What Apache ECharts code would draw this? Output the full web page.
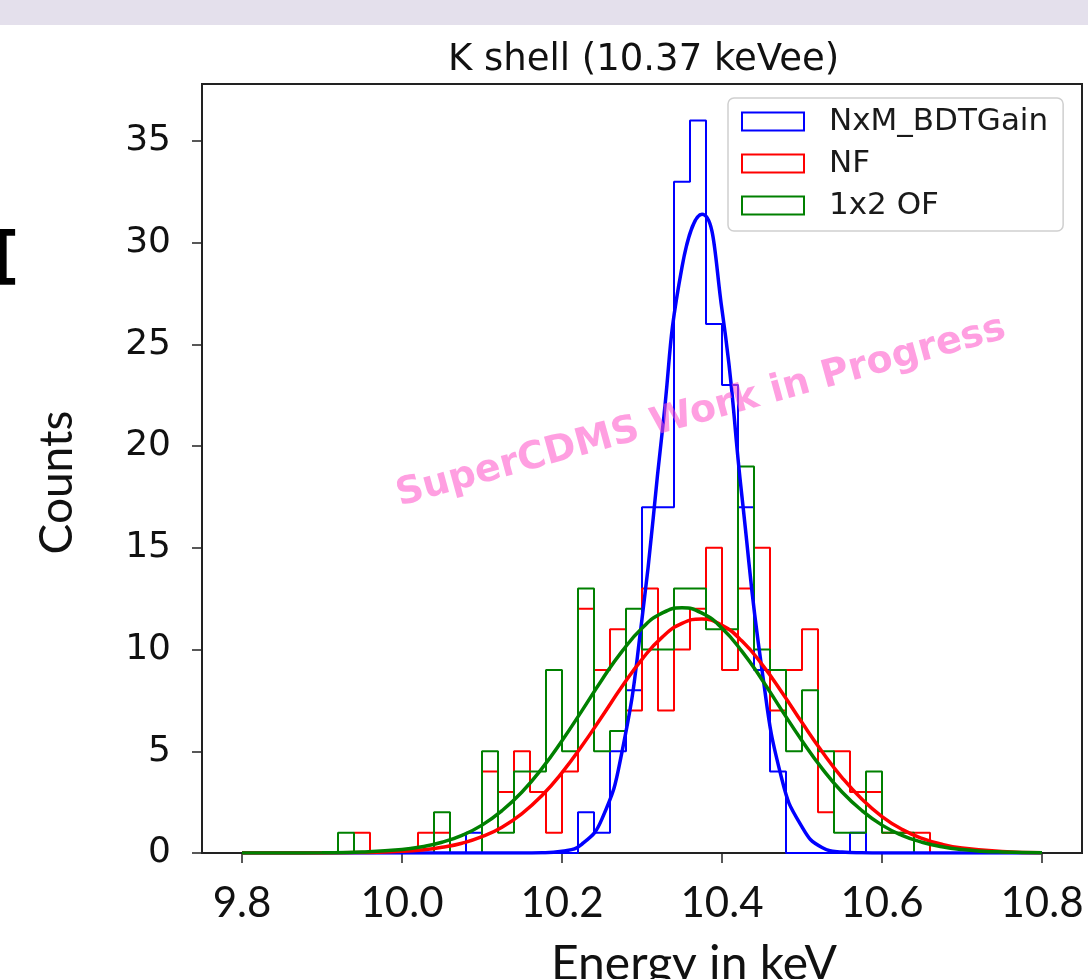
<!DOCTYPE html>
<html>
<head>
<meta charset="utf-8">
<title>K shell (10.37 keVee)</title>
<script src="https://cdn.jsdelivr.net/npm/echarts@6/dist/echarts.min.js"></script>
<style>
  html, body { margin: 0; padding: 0; background: #fff; }
  #chart1 { width: 1088px; height: 979px; }
</style>
</head>
<body>
<div id="chart1"></div>
<script>
// histogram: 50 bins of 0.02 keV between 9.8 and 10.8
var binStart = 9.8;
var binWidth = 0.02;
var seriesNames = ['NxM_BDTGain', 'NF', '1x2 OF'];
var seriesColors = ['#0000ff', '#ff0000', '#008000'];

var blueCounts = [0, 0, 0, 0, 0, 0, 0, 0, 0, 0,
                  0, 0, 0, 0, 1, 0, 0, 0, 0, 0,
                  0, 2, 1, 5, 8, 17, 17, 33, 36, 26,
                  23, 17, 9, 4, 0, 0, 0, 0, 1, 0,
                  0, 0, 0, 0, 0, 0, 0, 0, 0, 0];
var redCounts = [0, 0, 0, 0, 0, 0, 0, 1, 0, 0,
                 0, 1, 1, 0, 0, 4, 3, 5, 3, 1,
                 4, 12, 9, 11, 7, 13, 7, 10, 12, 15,
                 9, 13, 15, 7, 9, 11, 2, 5, 3, 3,
                 1, 1, 1, 0, 0, 0, 0, 0, 0, 0];
var greenCounts = [0, 0, 0, 0, 0, 0, 1, 0, 0, 0,
                   0, 0, 2, 0, 0, 5, 1, 4, 4, 9,
                   5, 13, 5, 6, 12, 10, 10, 13, 13, 11,
                   11, 19, 10, 9, 5, 8, 5, 1, 1, 4,
                   1, 1, 0, 0, 0, 0, 0, 0, 0, 0];

// gaussian fits as [energy, counts]
var blueFit = [[9.80, 0], [9.90, 0], [10.00, 0], [10.10, 0], [10.125, 0], [10.15, 0], [10.175, 0.01],
               [10.20, 0.09], [10.225, 0.44], [10.25, 1.68], [10.275, 4.97], [10.30, 11.5],
               [10.325, 20.6], [10.35, 28.8], [10.375, 31.4], [10.40, 26.7], [10.425, 17.5],
               [10.45, 9.0], [10.475, 3.6], [10.50, 1.28], [10.525, 0.27], [10.55, 0.05],
               [10.575, 0.01], [10.60, 0], [10.625, 0], [10.70, 0], [10.80, 0]];
var redFit = [[9.80, 0], [9.85, 0], [9.90, 0], [9.95, 0.02], [10.00, 0.08], [10.025, 0.15],
              [10.05, 0.28], [10.075, 0.48], [10.10, 0.8], [10.125, 1.27], [10.15, 1.94],
              [10.175, 2.83], [10.20, 3.95], [10.225, 5.27], [10.25, 6.71], [10.275, 8.18],
              [10.30, 9.52], [10.325, 10.6], [10.35, 11.29], [10.375, 11.5], [10.40, 11.19],
              [10.425, 10.42], [10.45, 9.27], [10.475, 7.89], [10.50, 6.41], [10.525, 4.99],
              [10.55, 3.71], [10.575, 2.64], [10.60, 1.79], [10.625, 1.16], [10.65, 0.72],
              [10.675, 0.43], [10.70, 0.25], [10.75, 0.07], [10.80, 0.01]];
var greenFit = [[9.80, 0], [9.85, 0], [9.90, 0.01], [9.95, 0.05], [10.00, 0.17], [10.025, 0.31],
                [10.05, 0.53], [10.075, 0.87], [10.10, 1.37], [10.125, 2.08], [10.15, 3.0],
                [10.175, 4.16], [10.20, 5.52], [10.225, 7.0], [10.25, 8.52], [10.275, 9.91],
                [10.30, 11.05], [10.325, 11.79], [10.35, 12.05], [10.375, 11.79], [10.40, 11.05],
                [10.425, 9.91], [10.45, 8.52], [10.475, 7.0], [10.50, 5.52], [10.525, 4.16],
                [10.55, 3.0], [10.575, 2.08], [10.60, 1.37], [10.625, 0.87], [10.65, 0.53],
                [10.675, 0.31], [10.70, 0.17], [10.725, 0.09], [10.75, 0.05], [10.80, 0.01]];

var xTicks = [9.8, 10.0, 10.2, 10.4, 10.6, 10.8];
var yTicks = [0, 5, 10, 15, 20, 25, 30, 35];

// outline of a step histogram: points at the bin edges
function stepData(counts) {
  var pts = [[binStart, 0]];
  for (var i = 0; i < counts.length; i++) {
    pts.push([+(binStart + i * binWidth).toFixed(3), counts[i]]);
  }
  pts.push([+(binStart + counts.length * binWidth).toFixed(3), 0]);
  return pts;
}

var histSeries = [blueCounts, redCounts, greenCounts].map(function (counts, i) {
  return {
    name: seriesNames[i],
    type: 'line',
    step: 'end',
    data: stepData(counts),
    showSymbol: false,
    color: seriesColors[i],
    lineStyle: { color: seriesColors[i], width: 2 },
    z: 2
  };
});
var fitSeries = [blueFit, redFit, greenFit].map(function (fit, i) {
  return {
    name: seriesNames[i] + ' fit',
    type: 'line',
    data: fit,
    smooth: true,
    showSymbol: false,
    color: seriesColors[i],
    lineStyle: { color: seriesColors[i], width: 3.5 },
    z: 3
  };
});

var myChart = echarts.init(document.getElementById('chart1'));
var option = {
  animation: false,
  backgroundColor: '#fff',
  title: {
    text: 'K shell (10.37 keVee)',
    left: 443,
    top: 37,
    textStyle: { fontFamily: 'DejaVu Sans', fontSize: 37, fontWeight: 'normal', color: '#111' }
  },
  legend: {
    data: seriesNames,
    icon: 'emptyRect',
    orient: 'vertical',
    left: 728,
    top: 98,
    itemWidth: 62,
    itemHeight: 18,
    itemGap: 11,
    backgroundColor: '#fff',
    borderColor: '#cfcfcf',
    borderWidth: 1.5,
    borderRadius: 6,
    padding: [8, 15, 10, 13],
    textStyle: { fontFamily: 'DejaVu Sans', fontSize: 31, color: '#1a1a1a', padding: [0, 0, 0, 20] }
  },
  grid: {
    left: 202, right: 6, top: 84, bottom: 126,
    outerBoundsMode: 'none',
    containLabel: false,
    show: true, borderColor: '#222', borderWidth: 2, backgroundColor: 'transparent'
  },
  xAxis: {
    type: 'value',
    min: 9.75,
    max: 10.85,
    name: 'Energy in keV',
    nameLocation: 'middle',
    nameGap: 88,
    nameTextStyle: { fontFamily: 'Lato', fontSize: 48, color: '#111', padding: [0, 0, 0, 104] },
    axisLine: { lineStyle: { color: '#222', width: 2 } },
    axisTick: { customValues: xTicks, length: 10, lineStyle: { color: '#222', width: 1.5 } },
    axisLabel: {
      customValues: xTicks, margin: 29,
      fontFamily: 'Lato', fontSize: 42, color: '#111',
      formatter: function (v) { return v.toFixed(1); }
    },
    splitLine: { show: false }
  },
  yAxis: {
    type: 'value',
    min: 0,
    max: 37.8,
    name: 'Counts',
    nameLocation: 'middle',
    nameGap: 122,
    nameTextStyle: { fontFamily: 'Lato', fontSize: 46, color: '#111', padding: [0, 28, 0, 0] },
    axisLine: { lineStyle: { color: '#222', width: 2 } },
    axisTick: { customValues: yTicks, length: 10, lineStyle: { color: '#222', width: 1.5 } },
    axisLabel: { customValues: yTicks, margin: 31, fontFamily: 'DejaVu Sans', fontSize: 36, color: '#111' },
    splitLine: { show: false }
  },
  graphic: [
    { type: 'rect', left: 0, top: 0, shape: { width: 1088, height: 25 }, style: { fill: '#e4e0ec' }, z: 0 },
    { type: 'text', left: -9, top: 229, style: { text: '[', font: 'bold 62px DejaVu Sans', fill: '#000' } },
    {
      type: 'text', x: 701, y: 412, rotation: 0.27, z: 100,
      style: {
        text: 'SuperCDMS Work in Progress', font: 'bold 38px DejaVu Sans',
        fill: 'rgba(255,80,200,0.55)', align: 'center', verticalAlign: 'middle'
      }
    }
  ],
  series: histSeries.concat(fitSeries)
};
myChart.setOption(option);
</script>
</body>
</html>
